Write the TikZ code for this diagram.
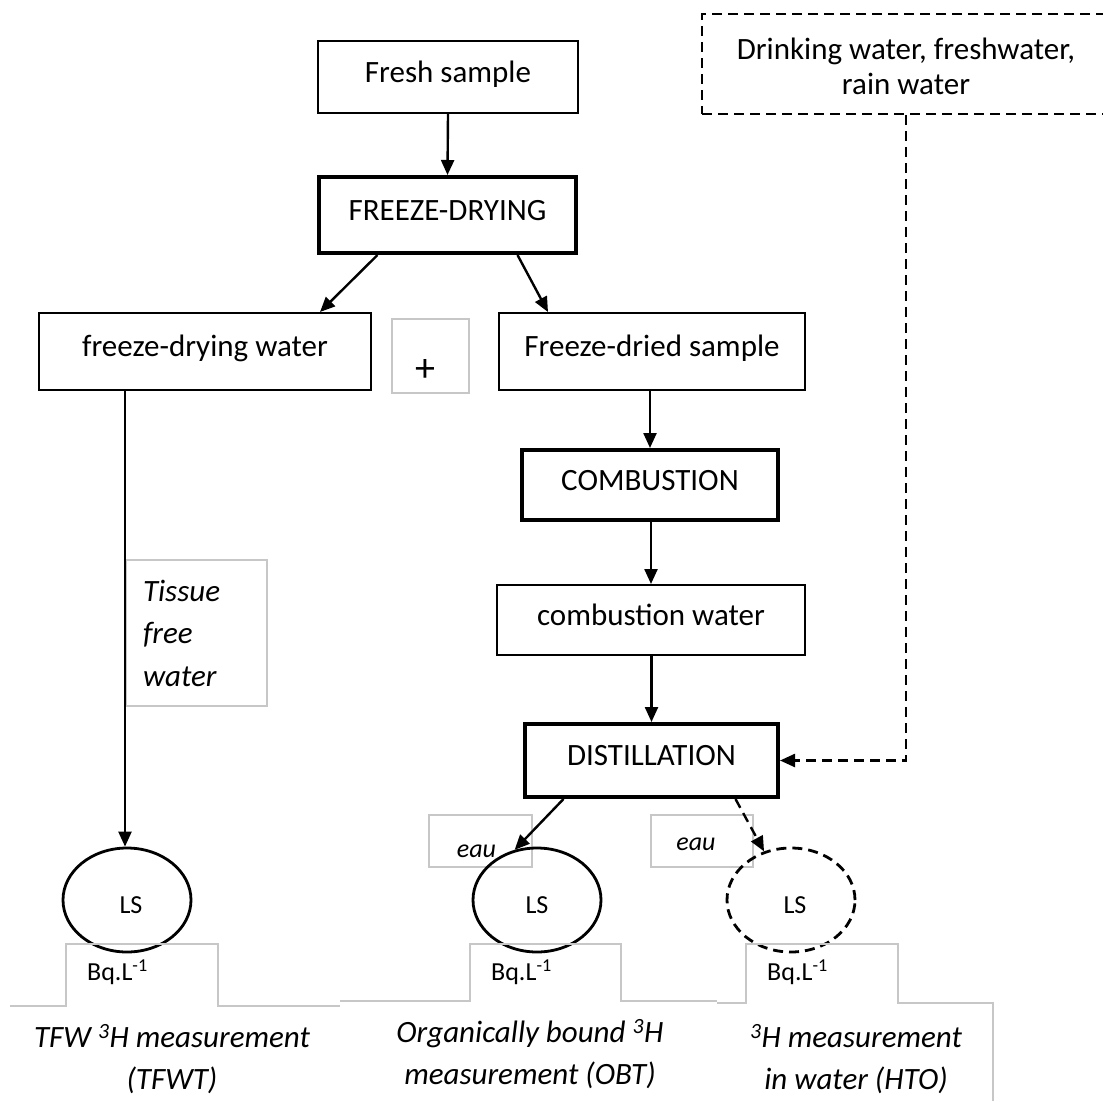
\documentclass[tikz,border=0pt]{standalone}
\usepackage{fontspec}
\setmainfont{Carlito}
\usetikzlibrary{arrows.meta}
\usetikzlibrary{shapes.geometric}

\begin{document}
\begin{tikzpicture}[x=1pt, y=-1pt,
        frame/.style={draw=black, line width=2pt, fill=white, inner sep=0pt, align=center, font=\fontsize{31}{35}\selectfont},
        box/.style={frame, text height=21pt, text depth=11pt},
        thickbox/.style={box, line width=4pt},
        greybox/.style={draw=black!22, line width=1.2pt, inner sep=0pt},
        arr/.style={line width=2.4pt, -{Triangle[length=15pt,width=13pt]}},
        dsh/.style={dash pattern=on 10pt off 6pt},
        ls/.style={draw=black, ellipse, line width=2.8pt, minimum width=128pt, minimum height=104pt, inner sep=0pt, font=\fontsize{26}{30}\selectfont},
        lbl/.style={inner sep=0pt, font=\fontsize{26}{30}\selectfont},
        meas/.style={inner sep=0pt, align=center, font=\fontsize{31}{42}\selectfont\itshape}
      ]
  \useasboundingbox (0,0) rectangle (1103,1101);

  % boxes
  \node[box, minimum width=260pt, minimum height=72pt] (fresh) at (448,77) {Fresh sample};
  \node[thickbox, minimum width=257pt, minimum height=76pt] (freeze) at (447.5,215) {FREEZE-DRYING};
  \node[box, minimum width=332pt, minimum height=77pt] (fdwater) at (205,351.5) {freeze-drying water};
  \node[greybox, minimum width=77pt, minimum height=74pt, font=\fontsize{40}{44}\selectfont] (plus) at (430.5,356) {\raisebox{-25pt}[0pt][0pt]{+}\hspace*{11pt}};
  \node[box, minimum width=306pt, minimum height=77pt] (fdsample) at (652,351.5) {Freeze-dried sample};
  \node[thickbox, minimum width=256pt, minimum height=70pt] (combustion) at (650,485) {COMBUSTION};
  \node[box, minimum width=308pt, minimum height=70pt] (cwater) at (651,620) {combustion water};
  \node[thickbox, minimum width=253pt, minimum height=73pt] (distill) at (651.5,760.5) {DISTILLATION};
  \node[frame, dsh, minimum width=408pt, minimum height=100pt] (drink) at (906,64)
    {\raisebox{-12pt}[0pt][0pt]{\begin{tabular}{@{}c@{}}Drinking water, freshwater,\\rain water\end{tabular}}};

  \node[greybox, minimum width=141pt, minimum height=146pt, text width=107pt, inner xsep=17pt, align=left,
        font=\fontsize{31}{42.5}\selectfont\itshape] (tfw) at (196.5,633) {Tissue\\free\\water};
  \node[greybox, minimum width=103pt, minimum height=52pt, font=\fontsize{26}{30}\selectfont\itshape] (eau1) at (480.5,841) {\raisebox{-16pt}[0pt][0pt]{eau}\hspace*{8pt}};
  \node[greybox, minimum width=102pt, minimum height=52pt, font=\fontsize{26}{30}\selectfont\itshape] (eau2) at (702,841) {\raisebox{-9pt}[0pt][0pt]{eau}\hspace*{12pt}};

  % scintillation
  \node[ls] (ls1) at (127,900) {\raisebox{-13pt}[0pt][0pt]{LS}\hspace*{-8pt}};
  \node[ls] (ls2) at (537,900) {\raisebox{-13pt}[0pt][0pt]{LS}};
  \node[ls, dsh] (ls3) at (791,900) {\raisebox{-13pt}[0pt][0pt]{LS}\hspace*{-8pt}};

  % result boxes
  \draw[black!22, line width=1.2pt] (10,1006) -- (66,1006) -- (66,944) -- (218,944) -- (218,1006) -- (340,1006);
  \draw[black!22, line width=1.2pt] (340,1001) -- (470,1001) -- (470,944) -- (621,944) -- (621,1001) -- (717,1001);
  \draw[black!22, line width=1.2pt] (717,1003) -- (746,1003) -- (746,944) -- (898,944) -- (898,1003) -- (993,1003) -- (993,1101);
  \foreach \n/\x in {1/87, 2/491, 3/767}
    \node[lbl, anchor=west] (bq\n) at (\x,972) {Bq.L\textsuperscript{-1}};

  \node[meas] (tfwt) at (172,1059) {TFW \textsuperscript{3}H measurement\\(TFWT)};
  \node[meas] (obt) at (530,1054) {Organically bound \textsuperscript{3}H\\measurement (OBT)};
  \node[meas] (hto) at (856,1059) {\textsuperscript{3}H measurement\\in water (HTO)};

  % arrows
  \draw[arr] (fresh.south) -- (freeze.north);
  \draw[arr] ([xshift=-70pt]freeze.south) -- ([xshift=115pt]fdwater.north);
  \draw[arr] ([xshift=70pt]freeze.south) -- ([xshift=-104pt]fdsample.north);
  \foreach \a/\b in {fdsample/combustion, combustion/cwater, cwater/distill}
    \draw[arr] (\a.south -| \b.north) -- (\b.north);
  \draw[arr] ([xshift=-80pt]fdwater.south) -- ([xshift=-80pt]fdwater.south |- ls1.north);
  \draw[arr] ([xshift=-88pt]distill.south) -- (ls2.114);
  \draw[arr, dsh] ([xshift=84pt]distill.south) -- (ls3.119);
  \draw[arr, dsh] (drink.south) |- (distill.east);

\end{tikzpicture}
\end{document}
